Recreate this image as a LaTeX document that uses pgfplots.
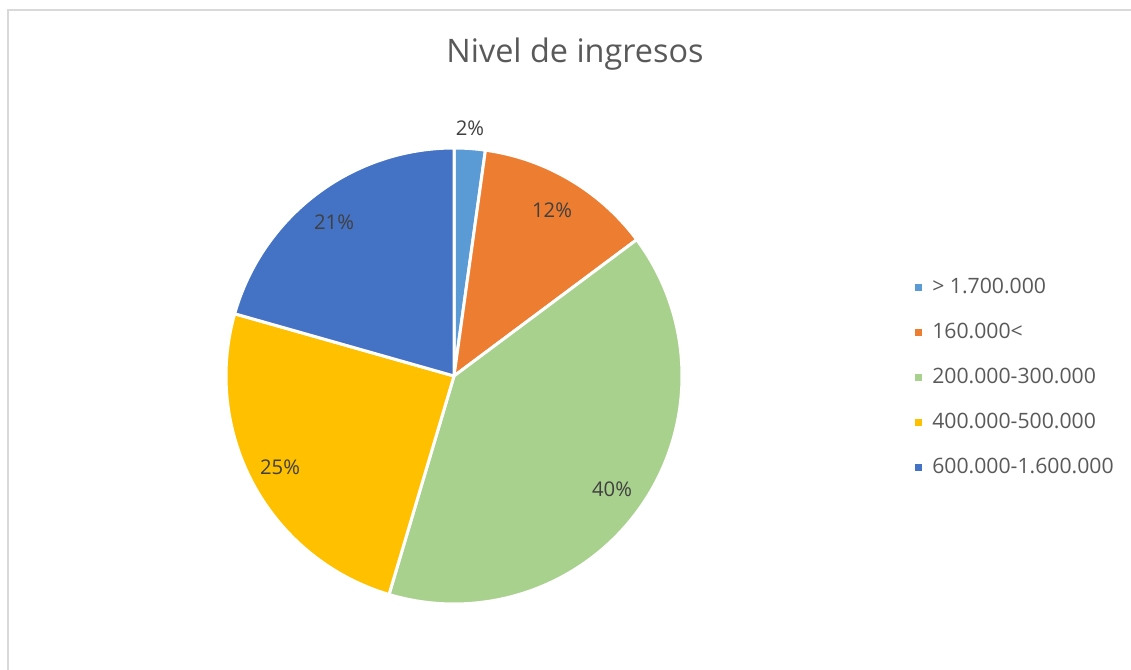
\documentclass[border=0pt]{standalone}
\usepackage{fontspec}
\setmainfont{Open Sans}
\usepackage{pgfplots}
\usepackage{pgfplotstable}
\pgfplotsset{compat=1.18}
\definecolor{cA}{HTML}{5B9BD5}
\definecolor{cB}{HTML}{ED7D31}
\definecolor{cC}{HTML}{A9D18E}
\definecolor{cD}{HTML}{FFC000}
\definecolor{cE}{HTML}{4472C4}
\definecolor{txt}{HTML}{595959}
\definecolor{lbl}{HTML}{404040}
\definecolor{frame}{HTML}{D9D9D9}
\pgfplotstableread{
idx value
0 2.2
1 12.6
2 39.8
3 24.8
4 20.6
}\pietable
\begin{document}
\begin{tikzpicture}
\pgfplotstablegetelem{0}{value}\of\pietable \let\vA\pgfplotsretval
\pgfplotstablegetelem{1}{value}\of\pietable \let\vB\pgfplotsretval
\pgfplotstablegetelem{2}{value}\of\pietable \let\vC\pgfplotsretval
\pgfplotstablegetelem{3}{value}\of\pietable \let\vD\pgfplotsretval
\pgfplotstablegetelem{4}{value}\of\pietable \let\vE\pgfplotsretval
\pgfmathsetmacro\aA{90}
\pgfmathsetmacro\aB{\aA-3.6*\vA}
\pgfmathsetmacro\aC{\aB-3.6*\vB}
\pgfmathsetmacro\aD{\aC-3.6*\vC}
\pgfmathsetmacro\aE{\aD-3.6*\vD}
\pgfmathsetmacro\aF{\aE-3.6*\vE}
\begin{axis}[
  width=848.25pt, height=502.5pt, scale only axis,
  xmin=0, xmax=1131, ymin=0, ymax=670,
  axis lines=none, clip=false,
  legend cell align=left,
  legend image code/.code={\path[#1,draw=none] (0pt,-2.6pt) rectangle (5.25pt,2.6pt);},
  legend style={at={(axis cs:915,393.4)}, anchor=north west, draw=none, fill=none,
    inner sep=0pt, font=\fontsize{15.9}{20}\selectfont, text=txt,
    nodes={inner sep=0pt, text height=12.5pt, text depth=3pt},
    column sep=7.5pt, row sep=18.25pt},
]
\draw[frame, line width=1.5pt] (axis cs:7.5,0) -- (axis cs:7.5,659.5) -- (axis cs:1131,659.5);
\addplot[fill=cA, draw=white, line width=2.25pt, line join=round, domain=\aB:\aA, samples=40, variable=\t]
  ({454+228*cos(\t)},{294+228*sin(\t)}) -- (axis cs:454,294) -- cycle;
\addlegendentry{> 1.700.000}
\addplot[fill=cB, draw=white, line width=2.25pt, line join=round, domain=\aC:\aB, samples=60, variable=\t]
  ({454+228*cos(\t)},{294+228*sin(\t)}) -- (axis cs:454,294) -- cycle;
\addlegendentry{160.000<}
\addplot[fill=cC, draw=white, line width=2.25pt, line join=round, domain=\aD:\aC, samples=120, variable=\t]
  ({454+228*cos(\t)},{294+228*sin(\t)}) -- (axis cs:454,294) -- cycle;
\addlegendentry{200.000-300.000}
\addplot[fill=cD, draw=white, line width=2.25pt, line join=round, domain=\aE:\aD, samples=90, variable=\t]
  ({454+228*cos(\t)},{294+228*sin(\t)}) -- (axis cs:454,294) -- cycle;
\addlegendentry{400.000-500.000}
\addplot[fill=cE, draw=white, line width=2.25pt, line join=round, domain=\aF:\aE, samples=80, variable=\t]
  ({454+228*cos(\t)},{294+228*sin(\t)}) -- (axis cs:454,294) -- cycle;
\addlegendentry{600.000-1.600.000}
\node[text=txt, font=\fontsize{24.3}{29}\selectfont, anchor=base] at (axis cs:575,607) {Nivel de ingresos};
\begin{scope}[every node/.style={text=lbl, font=\fontsize{15.2}{19}\selectfont}]
\node at (axis cs:470,542) {2\%};
\node at (axis cs:552,460) {12\%};
\node at (axis cs:612,181) {40\%};
\node at (axis cs:280,203) {25\%};
\node at (axis cs:334,448) {21\%};
\end{scope}
\end{axis}
\pgfresetboundingbox
\path (0,0) rectangle (848.25pt,502.5pt);
\end{tikzpicture}
\end{document}
